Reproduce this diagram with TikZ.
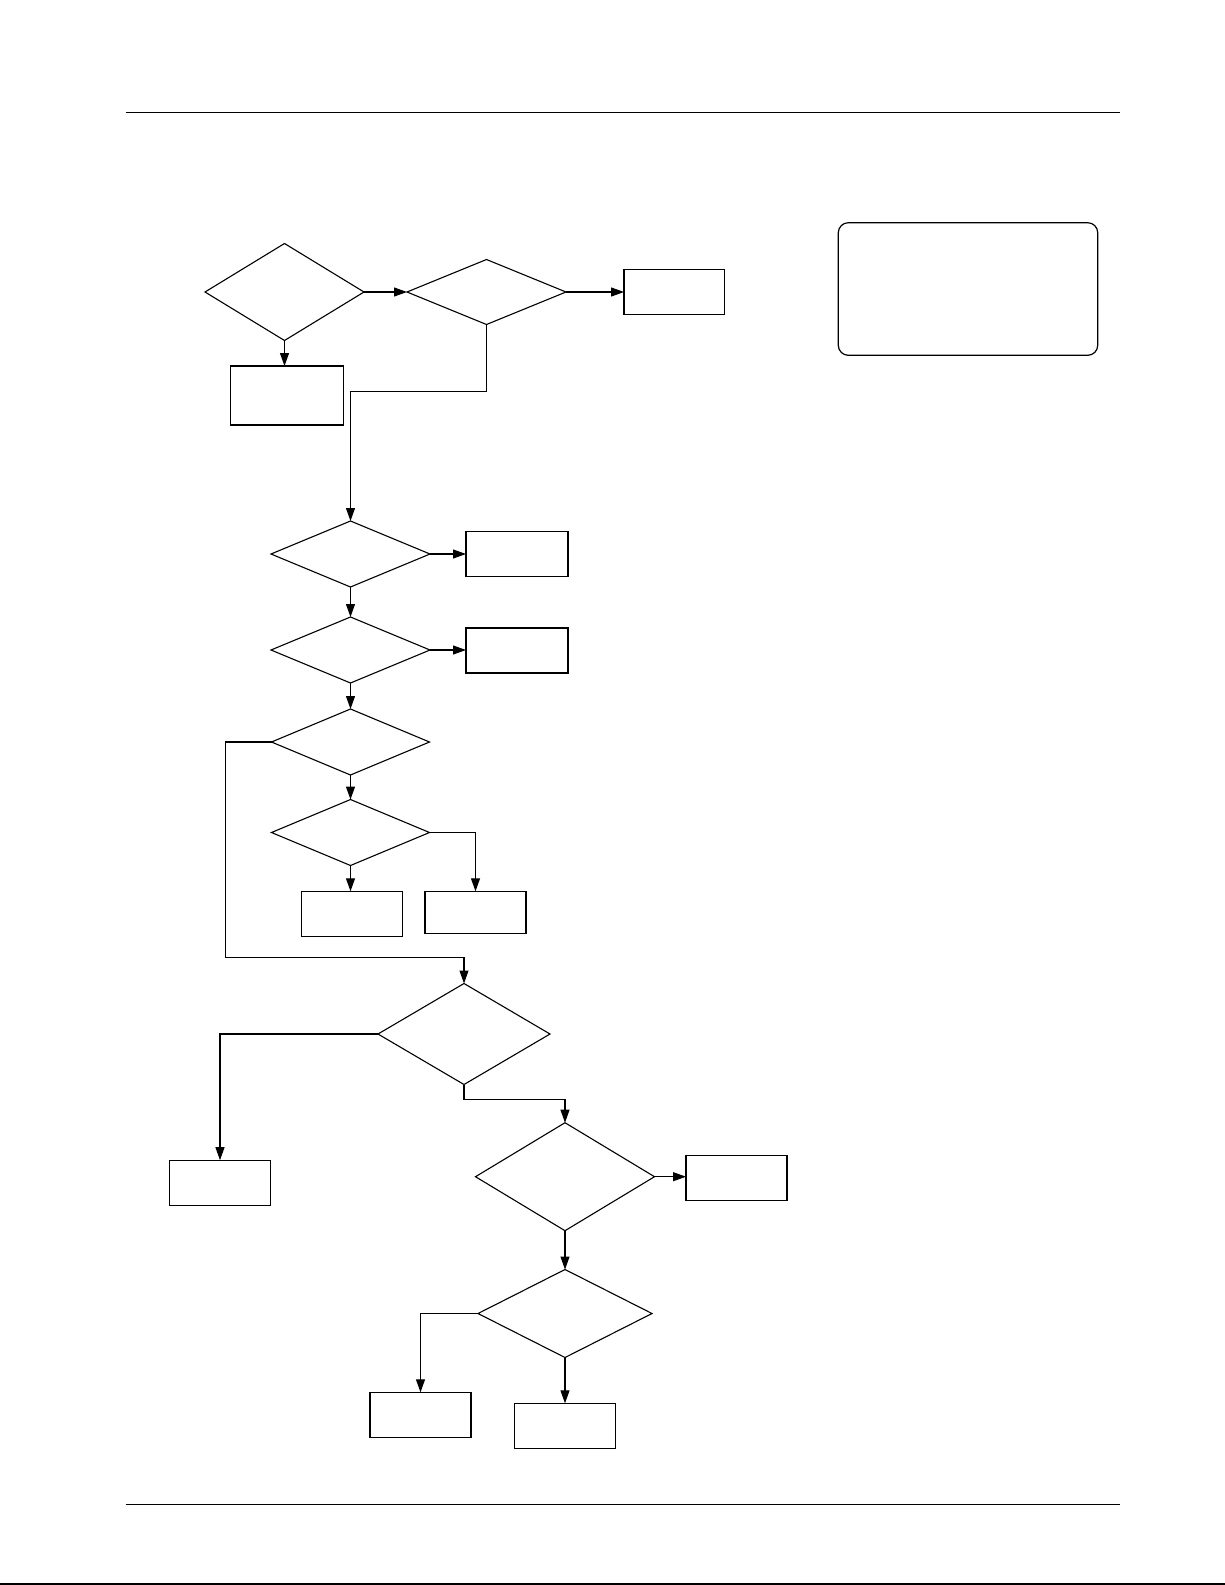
\documentclass[tikz,border=0pt]{standalone}
\usetikzlibrary{shapes.geometric,arrows.meta}
\tikzset{
  dec/.style 2 args={diamond, draw, line width=0.55pt, inner sep=0pt, outer sep=0pt, minimum width=#1, minimum height=#2},
  blk/.style 2 args={rectangle, draw, line width=0.7pt, inner sep=0pt, outer sep=0pt, minimum width=#1, minimum height=#2},
  conn/.style={line width=0.55pt},
  arr/.style={conn, -{Triangle[length=6.5pt,width=4.5pt]}},
  rule/.style={line width=0.8pt}
}
\begin{document}
\begin{tikzpicture}[x=0.5pt,y=-0.5pt]
\useasboundingbox (0,0) rectangle (1225,1585);
\fill[white] (0,0) rectangle (1225,1585);
% page rules
\coordinate (h1) at (126,112.3);
\coordinate (h2) at (1120,112.3);
\coordinate (f1) at (126,1504.3);
\coordinate (f2) at (1120,1504.3);
\coordinate (e1) at (0,1583.5);
\coordinate (e2) at (1225,1583.5);
\draw[rule] (h1) -- (h2);
\draw[rule] (f1) -- (f2);
\draw[line width=1pt] (e1) -- (e2);
% legend box
\node[blk={129.7pt}{66.3pt}, rounded corners=5pt, line width=0.6pt] (legend) at (968,289) {};
% nodes
\node[dec={79.5pt}{48.5pt}] (D1) at (284.5,292) {};
\node[dec={79.5pt}{32.5pt}] (D2) at (486.5,292) {};
\node[blk={50.25pt}{22.5pt}] (R1) at (674.3,292) {};
\node[blk={56.5pt}{29.5pt}] (B1) at (287,395.5) {};
\node[dec={79.5pt}{33pt}] (D3) at (350.5,554) {};
\node[blk={51pt}{22.5pt}] (R2) at (517,554) {};
\node[dec={79.5pt}{33pt}] (D4) at (350.5,650) {};
\node[blk={51pt}{22.5pt}] (R3) at (517,650.5) {};
\node[dec={79pt}{33pt}] (D5) at (350.5,742) {};
\node[dec={79pt}{33pt}] (D6) at (350.5,832.5) {};
\node[blk={50.5pt}{22.5pt}] (BL6) at (351.8,913.8) {};
\node[blk={50.5pt}{21pt}] (BR6) at (475.5,912.3) {};
\node[dec={86pt}{50.5pt}] (D7) at (464,1034) {};
\node[blk={50.5pt}{22.5pt}] (BL7) at (220,1182.7) {};
\node[dec={89.5pt}{54pt}] (D8) at (565,1176.7) {};
\node[blk={50.5pt}{22.5pt}] (R8) at (736.5,1178) {};
\node[dec={87pt}{44pt}] (D9) at (565,1313.5) {};
\node[blk={50.5pt}{22.5pt}] (BL9) at (420.5,1414.8) {};
\node[blk={50.5pt}{22.5pt}] (BR9) at (565,1425.8) {};
% helper coordinates
\coordinate (c1) at (225.7,957.3);
% connectors
\draw[arr] (D1.east) -- (D2.west);
\draw[arr] (D2.east) -- (R1.west);
\draw[arr] (D1.south) -- (D1.south |- B1.north);
\draw[arr] (D2.south) -- ++(0,66.7) -| (D3.north);
\draw[arr] (D3.east) -- (D3.east -| R2.west);
\draw[arr] (D3.south) -- (D4.north);
\draw[arr] (D4.east) -- (D4.east -| R3.west);
\draw[arr] (D4.south) -- (D5.north);
\draw[arr] (D5.south) -- (D6.north);
\draw[arr] (D6.south) -- (D6.south |- BL6.north);
\draw[arr] (D6.east) -| (BR6.north);
\draw[arr] (D5.west) -| (c1) -| (D7.north);
\draw[arr] (D7.west) -| (BL7.north);
\draw[arr] (D7.south) -- ++(0,15) -| (D8.north);
\draw[arr] (D8.east) -- (D8.east -| R8.west);
\draw[arr] (D8.south) -- (D9.north);
\draw[arr] (D9.west) -| (BL9.north);
\draw[arr] (D9.south) -- (BR9.north);
\end{tikzpicture}
\end{document}
